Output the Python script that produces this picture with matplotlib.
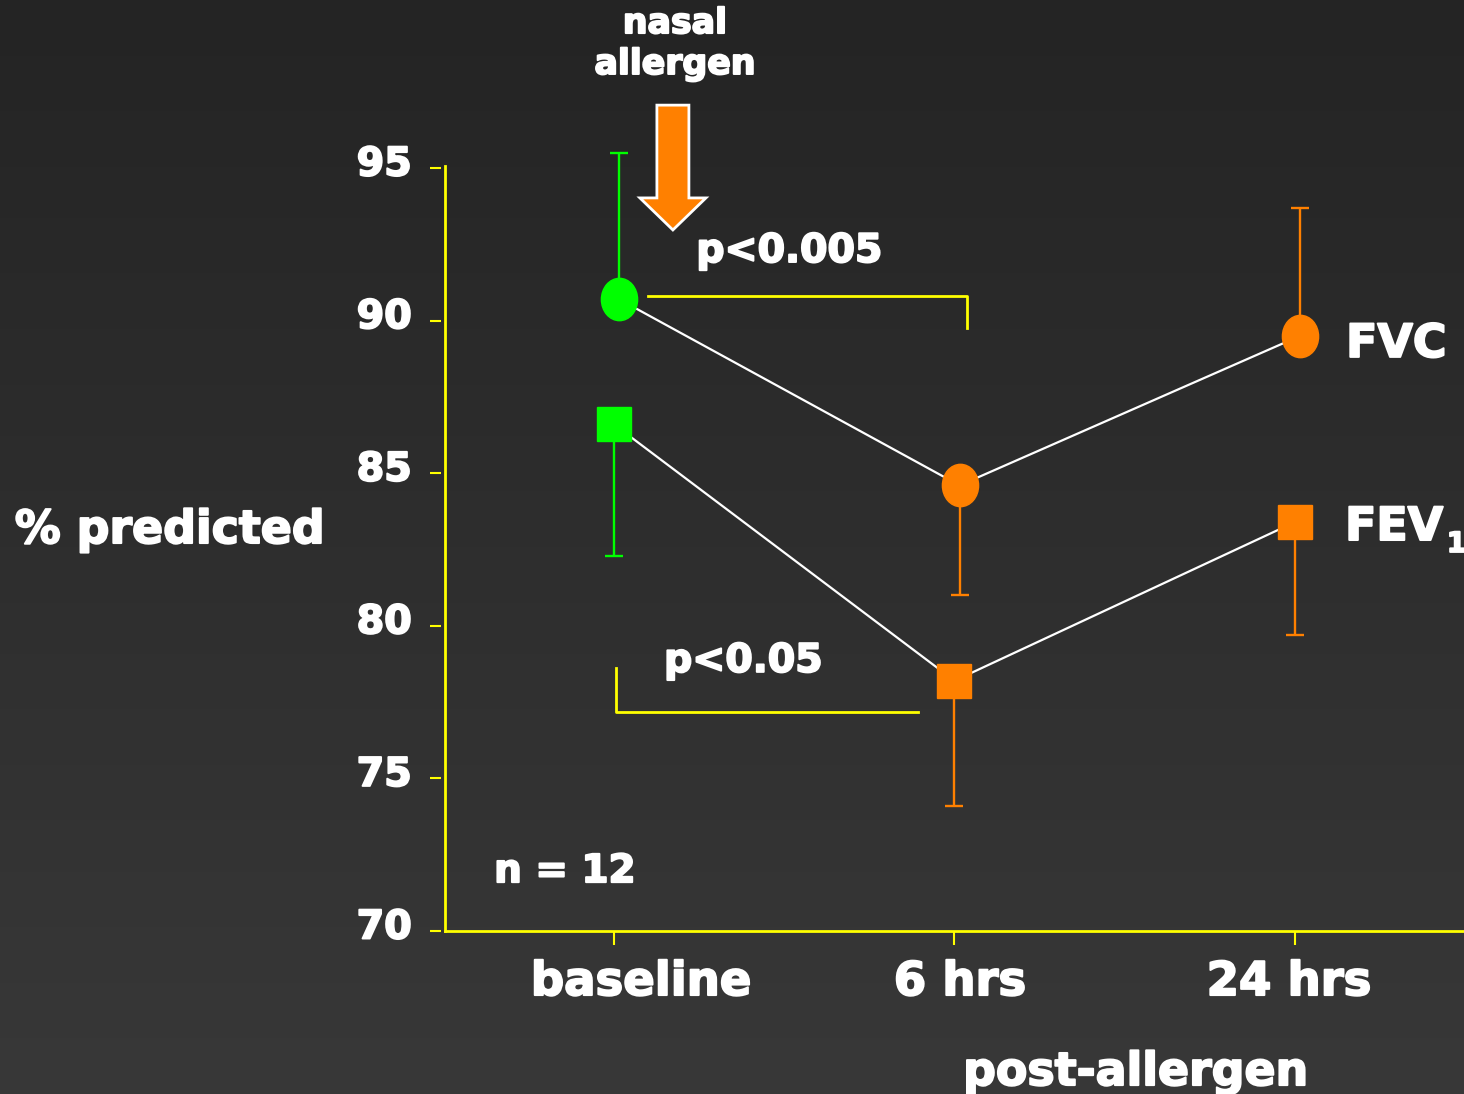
import numpy as np
import matplotlib
matplotlib.use("Agg")
from matplotlib import pyplot as plt
from matplotlib.path import Path
from matplotlib.transforms import Affine2D, ScaledTranslation
from matplotlib.patches import FancyArrow
import matplotlib.patheffects as pe

# time points and group means (% predicted), SEM bars drawn one-sided
timepoints = ['baseline', '6 hrs', '24 hrs']
fvc_mean = [90.7, 84.6, 89.5]
fvc_err = [4.8, 3.6, 4.2]
fvc_err_dir = ['up', 'down', 'up']
fev1_mean = [86.6, 78.2, 83.4]
fev1_err = [4.3, 4.1, 3.7]
fev1_err_dir = ['down', 'down', 'down']
point_colors = ['#00ff00', '#ff8000', '#ff8000']
yticks = [70, 75, 80, 85, 90, 95]

YELLOW = '#ffff00'
WHITE = 'white'
heavy = [pe.withStroke(linewidth=1.4, foreground=WHITE)]

fig = plt.figure(figsize=(14.64, 10.94), dpi=100)

# dark slide background, slightly lighter toward the bottom
bg = fig.add_axes([0, 0, 1, 1], zorder=-10)
grad = np.linspace(0, 1, 256).reshape(-1, 1)
bg.imshow(grad, aspect='auto', cmap=matplotlib.colors.LinearSegmentedColormap.from_list(
    'bg', ['#242424', '#383838']), extent=[0, 1, 0, 1], origin='upper')
bg.axis('off')

ax = fig.add_axes([0.30396, 0.14899, 0.69604, 0.69744])
ax.patch.set_alpha(0)
ax.set_xlim(-0.4963, 2.4963)
ax.set_ylim(70, 95)

x = np.arange(len(timepoints))
fvc_x = x + 0.015

# ellipse marker for FVC (a bit taller than wide)
ellipse = Path.unit_circle().transformed(Affine2D().scale(1.0, 1.17))

ax.plot(fvc_x, fvc_mean, color=WHITE, lw=1.6, zorder=2)
ax.plot(x, fev1_mean, color=WHITE, lw=1.6, zorder=2)

for i in range(len(timepoints)):
    c = point_colors[i]
    lo, hi = (0, fvc_err[i]) if fvc_err_dir[i] == 'up' else (fvc_err[i], 0)
    ax.errorbar(fvc_x[i], fvc_mean[i], yerr=[[lo], [hi]], fmt='none', ecolor=c,
                elinewidth=1.7, capsize=6.5, capthick=1.7, clip_on=False, zorder=1)
    lo, hi = (0, fev1_err[i]) if fev1_err_dir[i] == 'up' else (fev1_err[i], 0)
    ax.errorbar(x[i], fev1_mean[i], yerr=[[lo], [hi]], fmt='none', ecolor=c,
                elinewidth=1.7, capsize=6.5, capthick=1.7, clip_on=False, zorder=1)
    ax.plot(fvc_x[i], fvc_mean[i], marker=ellipse, ms=30.5, color=c, mec=c,
            ls='none', clip_on=False, zorder=3)
    ax.plot(x[i], fev1_mean[i], marker='s', ms=25, color=c, mec=c,
            ls='none', clip_on=False, zorder=3)

# axes styling
for s in ['top', 'right']:
    ax.spines[s].set_visible(False)
ax.spines['bottom'].set_color(YELLOW)
ax.spines['bottom'].set_linewidth(2)
ax.spines['left'].set_visible(False)
ax.spines['left'].set_position(('outward', 3))
ax.plot([0, 0], [0, 1.003], transform=ax.transAxes, color=YELLOW, lw=2, clip_on=False)

ax.set_yticks(yticks)
ax.set_yticklabels([str(v) for v in yticks])
ax.tick_params(axis='y', colors=YELLOW, length=8, width=1.5, pad=13,
               labelcolor=WHITE, labelsize=28.5)
for lab in ax.get_yticklabels():
    lab.set_fontweight('bold')
    lab.set_path_effects(heavy)
    lab.set_transform(lab.get_transform() + ScaledTranslation(0, 0.08, fig.dpi_scale_trans))

ax.set_xticks(x)
ax.set_xticklabels([])
ax.tick_params(axis='x', colors=YELLOW, length=10, width=1.5)

bold = dict(color=WHITE, fontweight='bold', family='DejaVu Sans', path_effects=heavy)

label_x = [0.079, 1.016, 1.982]
for lx, name in zip(label_x, timepoints):
    ax.text(lx, 67.9, name, ha='center', va='baseline', fontsize=33.5, **bold)
ax.text(1.533, 64.95, 'post-allergen', ha='center', va='baseline', fontsize=33, **bold)
ax.text(-1.304, 82.71, '% predicted', ha='center', va='baseline', fontsize=33, **bold)

ax.text(2.150, 88.81, 'FVC', ha='left', va='baseline', fontsize=33, **bold)
ax.text(2.147, 82.81, 'FEV', ha='left', va='baseline', fontsize=33, **bold)
ax.text(2.446, 82.42, '1', ha='left', va='baseline', fontsize=20, **bold)

ax.text(-0.352, 71.6, 'n = 12', ha='left', va='baseline', fontsize=28, **bold)

# significance brackets
ax.plot([0.100, 1.037, 1.037], [90.81, 90.81, 89.76], color=YELLOW, lw=2, clip_on=False)
ax.text(0.514, 91.92, 'p<0.005', ha='center', va='baseline', fontsize=28.4, **bold)
ax.plot([0.006, 0.006, 0.893], [78.62, 77.18, 77.18], color=YELLOW, lw=2, clip_on=False)
ax.text(0.379, 78.49, 'p<0.05', ha='center', va='baseline', fontsize=28.4, **bold)

# allergen challenge arrow
arrow = FancyArrow(0.173, 97.06, 0, -4.09, width=0.094, head_width=0.194,
                   head_length=1.05, length_includes_head=True,
                   fc='#ff8000', ec=WHITE, lw=2, clip_on=False, zorder=4)
ax.add_patch(arrow)
ax.text(0.179, 99.42, 'nasal', ha='center', va='baseline', fontsize=25, **bold)
ax.text(0.179, 98.08, 'allergen', ha='center', va='baseline', fontsize=25, **bold)

fig.savefig('out.png', dpi=100)
